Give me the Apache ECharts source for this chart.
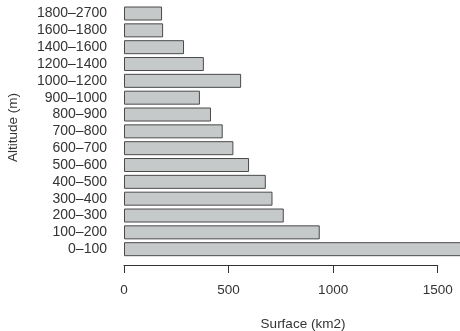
<!DOCTYPE html>
<html><head><meta charset="utf-8">
<script src="https://cdn.jsdelivr.net/npm/echarts@6/dist/echarts.min.js"></script>
<style>html,body{margin:0;padding:0;background:#fff}#c{width:460px;height:331px}</style>
</head><body><div id="c"></div>
<script>
const categories = ['0\u2013100','100\u2013200','200\u2013300','300\u2013400','400\u2013500','500\u2013600','600\u2013700','700\u2013800','800\u2013900','900\u20131000','1000\u20131200','1200\u20131400','1400\u20131600','1600\u20131800','1800\u20132700'];
const surface = [1700, 936, 764, 710, 678, 598, 523, 472, 416, 363, 560, 382, 287, 187, 182];
const xTicks = [0, 500, 1000, 1500];
const xTitle = 'Surface (km2)';
const yTitle = 'Altitude (m)';

const chart = echarts.init(document.getElementById('c'), null, {renderer:'canvas'});
const font = 'Liberation Sans, Arial, sans-serif';
chart.setOption({
  animation:false,
  backgroundColor:'#fff',
  grid:{left:124,right:22.3,top:5.1,bottom:73.4,containLabel:false},
  xAxis:{type:'value',min:xTicks[0],max:xTicks[xTicks.length-1],interval:500,offset:7.4,
    axisLine:{show:true,lineStyle:{color:'#333',width:1}},
    axisTick:{show:true,length:8,lineStyle:{color:'#333'}},
    axisLabel:{color:'#333',fontSize:13.5,fontFamily:font,margin:18,formatter:v=>String(v)},
    splitLine:{show:false}},
  yAxis:{type:'category',data:categories,
    axisLine:{show:false},axisTick:{show:false},
    axisLabel:{color:'#333',fontSize:14,fontFamily:font,margin:17,interval:0}},
  series:[{type:'bar',data:surface,clip:false,barWidth:14,
    itemStyle:{color:'#c5c9c9',borderColor:'#4a4a4a',borderWidth:1}}],
  graphic:[
    {type:'text',x:303,y:324,style:{text:xTitle,fill:'#333',font:'13.5px '+font,textAlign:'center',textVerticalAlign:'middle'}},
    {type:'text',x:13,y:127.5,rotation:Math.PI/2,style:{text:yTitle,fill:'#333',font:'13.5px '+font,textAlign:'center',textVerticalAlign:'middle'}}
  ]
});
</script></body></html>
